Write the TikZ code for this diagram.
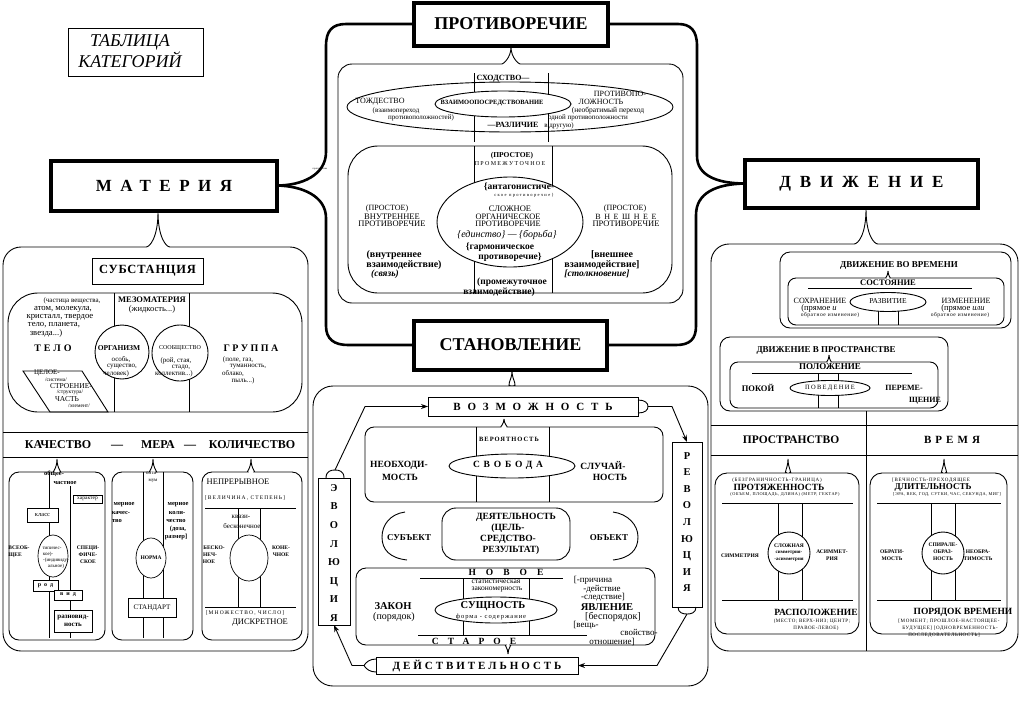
\documentclass[tikz,border=0pt]{standalone}
\usepackage{fontspec}
\setmainfont{Liberation Serif}
\usetikzlibrary{arrows.meta}
\newcommand\myfs[2]{\fontsize{#1}{#2}\selectfont}
\newcommand\lsp[1]{\addfontfeature{LetterSpace=#1}}
\begin{document}
\begin{tikzpicture}[x=1pt,y=-1pt,
  every node/.style={inner sep=0pt,outer sep=0pt,align=center},
  thk/.style={line width=2.6pt},
  thn/.style={line width=0.9pt},
  fin/.style={line width=0.7pt},
  bigbox/.style={draw,line width=4pt,fill=white},
  tr/.style={font=\myfs{#1}{#1}},
  tb/.style={font=\bfseries\myfs{#1}{#1}},
  ti/.style={font=\itshape\myfs{#1}{#1}},
  tbi/.style={font=\bfseries\itshape\myfs{#1}{#1}},
  arr/.style={thn,-{Stealth[length=7pt,width=5pt]}},
]
\useasboundingbox (0,0) rectangle (1024,718);

% ---------------- title
\node[draw,line width=0.8pt,minimum width=135pt,minimum height=48pt] (ttl) at (135.5,52) {};
\node[font=\itshape\myfs{18}{14.5}] (ttlt) at (130,51) {ТАБЛИЦА\\КАТЕГОРИЙ};

% ---------------- main boxes
\node[bigbox,minimum width=226pt,minimum height=50pt,font=\bfseries\myfs{17}{17}\lsp{50}] (mat) at (164,185.5) {МАТЕРИЯ};
\node[bigbox,minimum width=194pt,minimum height=43pt,font=\bfseries\myfs{18}{18}] (prot) at (511,24) {ПРОТИВОРЕЧИЕ};
\node[bigbox,minimum width=233pt,minimum height=48pt,font=\bfseries\myfs{17}{17}\lsp{52}] (dvi) at (861.5,183.5) {ДВИЖЕНИЕ};
\node[bigbox,minimum width=193pt,minimum height=49pt,font=\bfseries\myfs{18}{18}] (stan) at (510.5,345) {СТАНОВЛЕНИЕ};

% ---------------- thick frame
\draw[thk] (prot.west) -- (346,24) .. controls (332,24) and (326,31) .. (326,46) -- (326,152) .. controls (326,175) and (302,185.5) .. (mat.east);
\draw[thk] (mat.east) .. controls (302,186) and (326,196) .. (326,218) -- (326,326) .. controls (326,339) and (334,345) .. (348,345) -- (stan.west);
\draw[thk] (prot.east) -- (678,24) .. controls (691,24) and (697,31) .. (697,46) -- (697,156) .. controls (697,176) and (718,183.5) .. (dvi.west);
\draw[thk] (dvi.west) .. controls (716,184) and (696,193) .. (696,215) -- (696,326) .. controls (696,339) and (690,345) .. (676,345) -- (stan.east);
\node[tr=2.5] (tinyl) at (320,169) {противоречие};

% ================= ПРОТИВОРЕЧИЕ content
\draw[thn,rounded corners=14pt] (511,47) .. controls (511,58) and (503,64) .. (488,64) -- (338,64) -- (338,303) -- (683,303) -- (683,64) -- (534,64) .. controls (519,64) and (511,58) .. (511,47);
\draw[fin] (474,73) -- (474,92.2);
\draw[fin] (474,115.8) -- (474,142);
\draw[fin] (548,73) -- (548,94.3);
\draw[fin] (548,113.7) -- (548,142);
\draw[thn] (510,107) ellipse [x radius=163, y radius=25];
\draw[thn] (503,104) ellipse [x radius=68, y radius=13];
\node[tb=8] (p1) at (503,79) {СХОДСТВО—};
\node[tr=8] (p2) at (380,102) {ТОЖДЕСТВО};
\node[tr=7] (p3) at (396,111) {(взаимопереход};
\node[tr=7] (p4) at (421,118) {противоположностей)};
\node[tb=6.5] (p5) at (492,103) {ВЗАИМООПОСРЕДСТВОВАНИЕ};
\node[tr=8] (p6) at (620,94) {ПРОТИВОПО-};
\node[tr=8] (p7) at (601,102) {ЛОЖНОСТЬ};
\node[tr=7.5] (p8) at (608,111) {(необратимый переход};
\node[tr=7] (p9) at (588,118) {одной противоположности};
\node[tr=7] (p10) at (559,126) {в другую)};
\node[tb=8] (p11) at (513,125) {—РАЗЛИЧИЕ};

\draw[thn,rounded corners=30pt] (348,146) rectangle (672,293);
\draw[fin] (474,146) -- (474,183);
\draw[fin] (474,261) -- (474,293);
\draw[fin] (552,146) -- (552,185);
\draw[fin] (552,259) -- (552,293);
\draw[thn] (510,222) ellipse [x radius=73, y radius=45];
\node[tb=7.5] (q1) at (512,156) {(ПРОСТОЕ)};
\node[font=\myfs{6}{6}\lsp{22}] (q2) at (510,164) {ПРОМЕЖУТОЧНОЕ};
\node[tb=9.5] (q3) at (519,187) {\{антагонистиче-};
\node[font=\myfs{4.5}{4.5}\lsp{30}] (q4) at (524,195) {ское противоречие\}};
\node[tr=8.5] (q5) at (510,209) {СЛОЖНОЕ};
\node[tr=8.3] (q6) at (508,216.5) {ОРГАНИЧЕСКОЕ};
\node[tr=8.3] (q7) at (508,223.5) {ПРОТИВОРЕЧИЕ};
\node[ti=10] (q8) at (507,235) {\{единство\} — \{борьба\}};
\node[tb=9.5] (q9) at (500,247) {\{гармоническое};
\node[tb=9.5] (q10) at (510,257) {противоречие\}};
\node[tr=8] (q11) at (387,209) {(ПРОСТОЕ)};
\node[tr=8.5] (q12) at (392,216.5) {ВНУТРЕННЕЕ};
\node[tr=8.5] (q13) at (392,223.5) {ПРОТИВОРЕЧИЕ};
\node[tb=10] (q14) at (394,255) {(внутреннее};
\node[tb=10] (q15) at (404,265) {взаимодействие)};
\node[tbi=9.5] (q16) at (385,274) {(связь)};
\node[tr=8] (q17) at (625,209) {(ПРОСТОЕ)};
\node[font=\myfs{8}{8}\lsp{45}] (q18) at (626,216.5) {ВНЕШНЕЕ};
\node[tr=8.5] (q19) at (626,223.5) {ПРОТИВОРЕЧИЕ};
\node[tb=10] (q20) at (612,255) {[внешнее};
\node[tb=10] (q21) at (602,265) {взаимодействие]};
\node[tbi=9.5] (q22) at (597,274) {[столкновение]};
\node[tb=9.5] (q23) at (512,282) {(промежуточное};
\node[tb=9.5] (q24) at (499,292) {взаимодействие)};

% ================= МАТЕРИЯ content
\draw[thn,rounded corners=18pt] (158,212) .. controls (158,237) and (150,247) .. (128,247) -- (3,247) -- (3,651) -- (308,651) -- (308,247) -- (188,247) .. controls (166,247) and (158,237) .. (158,212);
\node[draw,thn,minimum width=111pt,minimum height=26pt,font=\bfseries\myfs{12.5}{12.5}\lsp{6}] (sub) at (147.5,271) {СУБСТАНЦИЯ};
\draw[thn,rounded corners=30pt] (8,293) rectangle (302,412);
\draw[fin] (114,293) -- (114,412);
\draw[fin] (189,293) -- (189,412);
\draw[thn,fill=white] (122,352) circle [radius=27];
\draw[thn,fill=white] (180,353) circle [radius=28];
\draw[thn] (23,371) -- (82,371) -- (108,412) -- (50,412) -- cycle;
\node[tr=7] (m1) at (72,301) {(частица вещества,};
\node[tr=8.7] (m2) at (63,309) {атом, молекула,};
\node[tr=8.7] (m3) at (60,317) {кристалл, твердое};
\node[tr=8.7] (m4) at (54,325) {тело, планета,};
\node[tr=8.7] (m5) at (46,333) {звезда...)};
\node[tb=8.5] (m6) at (152,300) {МЕЗОМАТЕРИЯ};
\node[tr=8.5] (m7) at (152,309) {(жидкость...)};
\node[font=\bfseries\myfs{10}{10}\lsp{30}] (m8) at (53,348) {ТЕЛО};
\node[tb=7.5] (m9) at (119,348) {ОРГАНИЗМ};
\node[tr=7] (m10) at (121,360) {особь,};
\node[tr=7] (m11) at (122,367) {существо,};
\node[tr=7] (m12) at (116,374) {человек)};
\node[tr=6] (m13) at (180,348) {СООБЩЕСТВО};
\node[tr=7] (m14) at (176,361) {(рой, стая,};
\node[tr=7] (m15) at (181,368) {стадо,};
\node[tr=7] (m16) at (174,374) {коллектив...)};
\node[font=\bfseries\myfs{10}{10}\lsp{25}] (m17) at (251,348) {ГРУППА};
\node[tr=7] (m18) at (238,360) {(поле, газ,};
\node[tr=7] (m19) at (248,367) {туманность,};
\node[tr=7] (m20) at (233,374) {облако,};
\node[tr=7] (m21) at (243,381) {пыль...)};
\node[tr=7] (m22) at (47,373) {ЦЕЛОЕ-};
\node[tr=5.5] (m23) at (56,379.5) {/система/};
\node[tr=7.5] (m24) at (71,386) {СТРОЕНИЕ-};
\node[tr=5.5] (m25) at (70,392.5) {/структура/};
\node[tr=7.5] (m26) at (67,399) {ЧАСТЬ};
\node[tr=5.5] (m27) at (79,405.5) {/элемент/};

\draw[thn] (3,432) -- (308,432);
\draw[thn] (3,457) -- (308,457);
\node[tb=12] (kach) at (58,445) {КАЧЕСТВО};
\node[tb=12] (d1) at (117,447) {—};
\node[tb=12] (mera) at (158,445) {МЕРА};
\node[tb=12] (d2) at (190,447) {—};
\node[tb=12] (kol) at (252,445) {КОЛИЧЕСТВО};

% box 1
\draw[thn,rounded corners=10pt] (57,459) .. controls (57,469) and (52,472) .. (44,472) -- (9,472) -- (9,640) -- (105,640) -- (105,472) -- (70,472) .. controls (62,472) and (57,469) .. (57,459);
\draw[fin] (49,472) -- (49,638);
\draw[fin] (70,486) -- (70,638);
\draw[fin,fill=white] (53,556) ellipse [x radius=15, y radius=21];
\node[draw,fin,fill=white,minimum width=29pt,minimum height=8pt,tr=5.5] (har) at (87.5,499) {характер};
\node[draw,fin,fill=white,minimum width=31pt,minimum height=14pt,tr=6.5] (kla) at (42.5,515) {класс};
\node[draw,fin,fill=white,minimum width=25pt,minimum height=11pt,font=\bfseries\myfs{6}{6}\lsp{50}] (rod) at (45.5,585.5) {род};
\node[draw,fin,fill=white,minimum width=28pt,minimum height=10pt,font=\bfseries\myfs{6}{6}\lsp{50}] (vid) at (68,595) {вид};
\node[draw,fin,fill=white,minimum width=38pt,minimum height=22pt,font=\bfseries\myfs{7}{8.5}] (raz) at (73,621) {разновид-\\ность};
\node[tb=6.5] (k1) at (54,474) {общее-};
\node[tb=6.5] (k2) at (65,483) {частное};
\node[tr=5] (k3) at (52,548) {типичес-};
\node[tr=5] (k4) at (48,554) {кое)-};
\node[tr=5] (k5) at (56,560) {-(индивиду-};
\node[tr=5] (k6) at (56,566) {альное)};
\node[tb=5.5] (k7) at (19,548) {ВСЕОБ-};
\node[tb=5.5] (k8) at (15,555) {ЩЕЕ};
\node[tb=5.5] (k9) at (88,548) {СПЕЦИ-};
\node[tb=5.5] (k10) at (88,555) {ФИЧЕ-};
\node[tb=5.5] (k11) at (88,562) {СКОЕ};

% box 2
\draw[thn,rounded corners=10pt] (153,459) .. controls (153,469) and (148,472) .. (140,472) -- (112,472) -- (112,640) -- (193,640) -- (193,472) -- (166,472) .. controls (158,472) and (153,469) .. (153,459);
\draw[fin] (143,472) -- (143,638);
\draw[fin] (163,472) -- (163,638);
\draw[fin,fill=white] (151,558) ellipse [x radius=15, y radius=20];
\node[draw,fin,fill=white,minimum width=48pt,minimum height=19pt,tr=7] (std) at (152,607.5) {СТАНДАРТ};
\node[tr=5] (r1) at (152,473) {опти-};
\node[tr=5] (r2) at (153,481) {мум};
\node[tb=6.5] (r3) at (124,505) {мерное};
\node[tb=6.5] (r4) at (121,513) {качес-};
\node[tb=6.5] (r5) at (117,521) {тво};
\node[tb=6.5] (r6) at (178,505) {мерное};
\node[tb=6.5] (r7) at (177,513) {коли-};
\node[tb=6.5] (r8) at (176,521) {чество};
\node[tb=6.5] (r9) at (178,529) {(доза,};
\node[tb=6.5] (r10) at (176,537) {размер]};
\node[tb=5.5] (r11) at (151,558) {НОРМА};

% box 3
\draw[thn,rounded corners=10pt] (251,459) .. controls (251,469) and (246,472) .. (238,472) -- (202,472) -- (202,640) -- (302,640) -- (302,472) -- (264,472) .. controls (256,472) and (251,469) .. (251,459);
\draw[fin] (205,508) -- (296,508);
\draw[fin] (205,607) -- (296,607);
\draw[fin] (238,508) -- (238,607);
\draw[fin] (260,508) -- (260,607);
\draw[fin,fill=white] (249,558) ellipse [x radius=19, y radius=23];
\node[tr=8.5] (s1) at (238,482) {НЕПРЕРЫВНОЕ};
\node[font=\myfs{5.5}{5.5}\lsp{20}] (s2) at (245,498) {[ВЕЛИЧИНА, СТЕПЕНЬ]};
\node[tr=7] (s3) at (241,517) {квази-};
\node[tr=7] (s4) at (242,526) {бесконечное};
\node[tb=5.5] (s5) at (214,548) {БЕСКО-};
\node[tb=5.5] (s6) at (210,555) {НЕЧ-};
\node[tb=5.5] (s7) at (209,562) {НОЕ};
\node[tb=5.5] (s8) at (281,548) {КОНЕ-};
\node[tb=5.5] (s9) at (281,555) {ЧНОЕ};
\node[font=\myfs{5.5}{5.5}\lsp{20}] (s10) at (245,613) {[МНОЖЕСТВО, ЧИСЛО]};
\node[tr=8.5] (s11) at (260,623) {ДИСКРЕТНОЕ};

% ================= ДВИЖЕНИЕ content
\draw[thn,rounded corners=18pt] (866,209) .. controls (866,235) and (858,244) .. (836,244) -- (711,244) -- (711,651) -- (1018,651) -- (1018,244) -- (896,244) .. controls (874,244) and (866,235) .. (866,209);
\draw[thn,rounded corners=10pt] (780,252) rectangle (1011,328);
\draw[thn,rounded corners=8pt] (888,271) .. controls (888,276) and (885,278) .. (878,278) -- (788,278) -- (788,325) -- (1004,325) -- (1004,278) -- (898,278) .. controls (891,278) and (888,276) .. (888,271);
\draw[fin] (808,288) -- (972,288);
\draw[fin] (878,311) -- (878,325);
\draw[fin] (898,311) -- (898,325);
\draw[thn,fill=white] (888,302) ellipse [x radius=38, y radius=9.5];
\node[tb=9] (v1) at (899,265) {ДВИЖЕНИЕ ВО ВРЕМЕНИ};
\node[tb=8.5] (v2) at (888,283) {СОСТОЯНИЕ};
\node[tr=8] (v3) at (820,301) {СОХРАНЕНИЕ};
\node[tr=8.5] (v4) at (819,308.5) {(прямое \textit{и}};
\node[font=\myfs{5.5}{5.5}\lsp{10}] (v5) at (830,315.5) {обратное изменение)};
\node[tr=7.5] (v6) at (888,301) {РАЗВИТИЕ};
\node[tr=8] (v7) at (966,301) {ИЗМЕНЕНИЕ};
\node[tr=8.5] (v8) at (963,308.5) {(прямое \textit{или}};
\node[font=\myfs{5.5}{5.5}\lsp{10}] (v9) at (960,315.5) {обратное изменение)};

\draw[thn,rounded corners=10pt] (720,337) rectangle (948,411);
\draw[thn,rounded corners=8pt] (829,355) .. controls (829,360) and (826,362) .. (819,362) -- (730,362) -- (730,408) -- (938,408) -- (938,362) -- (839,362) .. controls (832,362) and (829,360) .. (829,355);
\draw[fin] (752,373) -- (912,373);
\draw[fin] (818,373) -- (818,382);
\draw[fin] (838,373) -- (838,382);
\draw[fin] (818,394) -- (818,408);
\draw[fin] (838,394) -- (838,408);
\draw[thn,fill=white] (830,388) ellipse [x radius=40, y radius=7.5];
\node[tb=9] (w1) at (826,350) {ДВИЖЕНИЕ В ПРОСТРАНСТВЕ};
\node[tb=9] (w2) at (830,367) {ПОЛОЖЕНИЕ};
\node[tb=8.5] (w3) at (758,388) {ПОКОЙ};
\node[font=\myfs{6.5}{6.5}\lsp{20}] (w4) at (830,388) {ПОВЕДЕНИЕ};
\node[tb=8] (w5) at (904,388) {ПЕРЕМЕ-};
\node[tb=8] (w6) at (925,401) {ЩЕНИЕ};

\draw[thn] (866,411) -- (866,651);
\draw[thn] (711,425) -- (1018,425);
\draw[thn] (711,455) -- (1018,455);
\node[tb=11.5] (prs) at (791,440) {ПРОСТРАНСТВО};
\node[font=\bfseries\myfs{11}{11}\lsp{37}] (vrm) at (952,440) {ВРЕМЯ};

% ПРОСТРАНСТВО box
\draw[thn,rounded corners=12pt] (788,459) .. controls (788,469) and (783,473) .. (775,473) -- (715,473) -- (715,634) -- (859,634) -- (859,473) -- (801,473) .. controls (793,473) and (788,469) .. (788,459);
\draw[fin] (722,503) -- (853,503);
\draw[fin] (722,600) -- (853,600);
\draw[fin] (778,503) -- (778,600);
\draw[fin] (802,503) -- (802,600);
\draw[thn,fill=white] (789,553) circle [radius=21];
\node[font=\myfs{5}{5}\lsp{15}] (x1) at (777,480) {(БЕЗГРАНИЧНОСТЬ-ГРАНИЦА)};
\node[tb=9.5] (x2) at (779,487) {ПРОТЯЖЕННОСТЬ};
\node[font=\myfs{4.3}{4.3}\lsp{12}] (x3) at (785,494) {(ОБЪЕМ, ПЛОЩАДЬ, ДЛИНА) (МЕТР, ГЕКТАР)};
\node[tb=5.5] (x4) at (740,556) {СИММЕТРИЯ};
\node[tb=5.5] (x5) at (789,546) {СЛОЖНАЯ};
\node[tb=5] (x6) at (789,553) {симметрия-};
\node[tb=5] (x7) at (789,560) {-асимметрия};
\node[tb=5.5] (x8) at (832,552) {АСИММЕТ-};
\node[tb=5.5] (x9) at (832,559) {РИЯ};
\node[tb=9.5] (x10) at (816,612) {РАСПОЛОЖЕНИЕ};
\node[font=\myfs{5}{5}\lsp{10}] (x11) at (812,621) {(МЕСТО; ВЕРХ-НИЗ; ЦЕНТР;};
\node[font=\myfs{5}{5}\lsp{10}] (x12) at (816,628) {ПРАВОЕ-ЛЕВОЕ)};

% ВРЕМЯ box
\draw[thn,rounded corners=12pt] (944,459) .. controls (944,469) and (939,473) .. (931,473) -- (870,473) -- (870,634) -- (1007,634) -- (1007,473) -- (957,473) .. controls (949,473) and (944,469) .. (944,459);
\draw[fin] (877,503) -- (1001,503);
\draw[fin] (877,600) -- (1001,600);
\draw[fin] (931,503) -- (931,600);
\draw[fin] (955,503) -- (955,600);
\draw[thn,fill=white] (943,553) circle [radius=21];
\node[font=\myfs{5}{5}\lsp{15}] (y1) at (931,480) {[ВЕЧНОСТЬ-ПРЕХОДЯЩЕЕ};
\node[tb=9] (y2) at (933,487) {ДЛИТЕЛЬНОСТЬ};
\node[font=\myfs{4.3}{4.3}\lsp{10}] (y3) at (947,494) {[ЭРА, ВЕК, ГОД, СУТКИ, ЧАС, СЕКУНДА, МИГ]};
\node[tb=5.5] (y4) at (892,552) {ОБРАТИ-};
\node[tb=5.5] (y5) at (892,559) {МОСТЬ};
\node[tb=5.5] (y6) at (943,545) {СПИРАЛЕ-};
\node[tb=5.5] (y7) at (943,552) {ОБРАЗ-};
\node[tb=5.5] (y8) at (943,559) {НОСТЬ};
\node[tb=5.5] (y9) at (978,552) {НЕОБРА-};
\node[tb=5.5] (y10) at (978,559) {ТИМОСТЬ};
\node[tb=9.5] (y11) at (963,612) {ПОРЯДОК ВРЕМЕНИ};
\node[font=\myfs{5}{5}\lsp{12}] (y12) at (949,621) {[МОМЕНТ; ПРОШЛОЕ-НАСТОЯЩЕЕ-};
\node[font=\myfs{5}{5}\lsp{12}] (y13) at (950,628) {БУДУЩЕЕ] [ОДНОВРЕМЕННОСТЬ-};
\node[font=\myfs{5}{5}\lsp{12}] (y14) at (944,635) {ПОСЛЕДОВАТЕЛЬНОСТЬ]};

% ================= СТАНОВЛЕНИЕ content
\draw[thn,rounded corners=20pt] (512,371) .. controls (512,381) and (505,386) .. (492,386) -- (313,386) -- (313,686) -- (708,686) -- (708,386) -- (532,386) .. controls (519,386) and (512,381) .. (512,371);
\node[draw,thn,fill=white,minimum width=210pt,minimum height=19pt,font=\bfseries\myfs{11}{11}\lsp{62}] (voz) at (533,406.5) {ВОЗМОЖНОСТЬ};
\draw[thn,rounded corners=9pt] (504,419) .. controls (504,424) and (500,427) .. (492,427) -- (365,427) -- (365,502) -- (663,502) -- (663,427) -- (516,427) .. controls (508,427) and (504,424) .. (504,419);
\draw[fin] (476,427) -- (476,456);
\draw[fin] (549,427) -- (549,456);
\draw[fin] (476,476) -- (476,502);
\draw[fin] (549,476) -- (549,502);
\draw[thn,fill=white] (512,466) ellipse [x radius=63, y radius=12];
\node[font=\bfseries\myfs{6.5}{6.5}\lsp{15}] (z1) at (509,439) {ВЕРОЯТНОСТЬ};
\node[font=\bfseries\myfs{9.5}{9.5}\lsp{40}] (z2) at (508,465) {СВОБОДА};
\node[tb=9.5] (z3) at (399,465) {НЕОБХОДИ-};
\node[tb=9.5] (z4) at (400,477) {МОСТЬ};
\node[tb=9.5] (z5) at (603,465) {СЛУЧАЙ-};
\node[tb=9.5] (z6) at (610,477) {НОСТЬ};

\draw[thn,rounded corners=14pt] (442,508) rectangle (570,560);
\draw[thn] (405,512) .. controls (390,514) and (382,525) .. (382,537) .. controls (382,550) and (390,558) .. (407,560);
\draw[thn] (613,512) .. controls (628,514) and (638,525) .. (638,537) .. controls (638,550) and (630,558) .. (613,560);
\node[tb=9.5] (z7) at (516,517) {ДЕЯТЕЛЬНОСТЬ};
\node[tb=9.5] (z8) at (508,528) {(ЦЕЛЬ-};
\node[tb=9.5] (z9) at (508,539) {СРЕДСТВО-};
\node[tb=9.5] (z10) at (511,550) {РЕЗУЛЬТАТ)};
\node[tb=9] (z11) at (409,538) {СУБЪЕКТ};
\node[tb=9] (z12) at (609,538) {ОБЪЕКТ};

\draw[thn,rounded corners=10pt] (508,654) .. controls (508,648) and (504,645) .. (496,645) -- (356,645) -- (356,568) -- (655,568) -- (655,645) -- (520,645) .. controls (512,645) and (508,648) .. (508,654);
\draw[fin] (420,578) -- (563,578);
\draw[fin] (418,635) -- (587,635);
\draw[fin] (463,578) -- (463,599);
\draw[fin] (529,578) -- (529,599);
\draw[fin] (463,621) -- (463,635);
\draw[fin] (529,621) -- (529,635);
\draw[thn,fill=white] (496,610) ellipse [x radius=61, y radius=13];
\node[font=\bfseries\myfs{9.5}{9.5}\lsp{105}] (z13) at (506,572) {НОВОЕ};
\node[tr=7.5] (z14) at (496,582) {статистическая};
\node[tr=7.5] (z15) at (497,590) {закономерность};
\node[tb=10.5] (z16) at (493,606) {СУЩНОСТЬ};
\node[font=\myfs{6.5}{6.5}\lsp{15}] (z17) at (491,617) {форма - содержание};
\node[tb=10.5] (z18) at (393,606) {ЗАКОН};
\node[tr=10] (z19) at (394,617) {(порядок)};
\node[tr=9] (z20) at (593,580.5) {[-причина};
\node[tr=9] (z21) at (602,589) {-действие};
\node[tr=9] (z22) at (603,597.5) {-следствие]};
\node[tb=10.5] (z23) at (607,607) {ЯВЛЕНИЕ};
\node[tr=10] (z24) at (613,617) {[беспорядок]};
\node[tr=9] (z25) at (586,625) {[вещь-};
\node[tr=9] (z26) at (639,632.5) {свойство-};
\node[tr=9] (z27) at (612,642) {отношение]};
\node[font=\bfseries\myfs{9.5}{9.5}\lsp{95}] (z28) at (474,641) {СТАРОЕ};

\node[draw,thn,fill=white,minimum width=202pt,minimum height=17pt,font=\bfseries\myfs{11}{11}\lsp{27}] (dei) at (477,665.5) {ДЕЙСТВИТЕЛЬНОСТЬ};
\node[draw,thn,minimum width=32pt,minimum height=147pt] (evo) at (334,551.5) {};
\node[font=\bfseries\myfs{10.5}{18.6}] (evot) at (334,553) {Э\\В\\О\\Л\\Ю\\Ц\\И\\Я};
\node[draw,thn,minimum width=30pt,minimum height=165pt] (rev) at (687,524.5) {};
\node[font=\bfseries\myfs{10.5}{16.6}] (revt) at (687,522) {Р\\Е\\В\\О\\Л\\Ю\\Ц\\И\\Я};

\coordinate (evocap) at (335,470);
\coordinate (vozcap) at (648,406.5);
\coordinate (revcap) at (687,614);
\coordinate (deicap) at (364,665.5);
\draw[thn] (326,478) .. controls (326,471) and (331,470) .. (evocap) .. controls (339,470) and (344,471) .. (344,478);
\draw[thn] (638,400) .. controls (645,400) and (648,403) .. (vozcap) .. controls (648,410) and (645,413) .. (638,413);
\draw[thn] (678,607) .. controls (678,613) and (683,614) .. (revcap) .. controls (691,614) and (696,613) .. (696,607);
\draw[thn] (376,659) .. controls (370,659) and (366,662) .. (deicap) .. controls (366,669) and (370,672) .. (376,672);
\draw[arr] (evocap) -- (365,406.5) -- (voz.west);
\draw[arr] (vozcap) -- (672,406.5) -- (rev.north);
\draw[arr] (revcap) -- (657,665.5) -- (dei.east);
\draw[arr] (deicap) -- (352,665.5) -- (evo.south);
\end{tikzpicture}
\end{document}
